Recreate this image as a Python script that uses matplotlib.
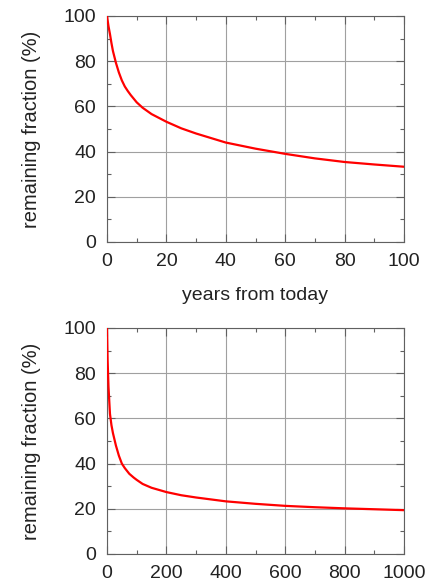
import matplotlib
matplotlib.use("Agg")
import matplotlib.pyplot as plt
from matplotlib.ticker import MultipleLocator

# Top panel (0-100 years)
years_short = [0, 0.5, 1, 1.5, 2, 3, 4, 5, 6, 7, 8, 10, 12, 15, 20, 25, 30, 35, 40, 50, 60, 70, 80, 90, 100]
frac_short = [100, 95.5, 92, 88, 84.5, 79.3, 75, 71.5, 68.8, 66.8, 65, 61.8, 59.4, 56.6, 53.2, 50.3, 48, 46, 44, 41.3, 39, 37, 35.4, 34.3, 33.3]

# Bottom panel (0-1000 years)
years_long = [0, 1, 2, 5, 10, 15, 20, 30, 40, 50, 60, 75, 90, 100, 120, 150, 200, 250, 300, 400, 500, 600, 700, 800, 900, 1000]
frac_long = [100, 93, 86, 74, 62, 57, 53.5, 48, 43.5, 40, 38, 35.5, 33.8, 32.8, 31, 29.3, 27.4, 26, 25, 23.3, 22.2, 21.3, 20.7, 20.2, 19.8, 19.4]

ylabel = "remaining fraction (%)"
xlabel = "years from today"

plt.rcParams['font.family'] = ['Liberation Sans', 'DejaVu Sans']

fig = plt.figure(figsize=(4.34, 5.84), dpi=100)
ax1 = fig.add_axes([107/434, 1-242/584, 297/434, 226/584])
ax2 = fig.add_axes([107/434, 1-554/584, 297/434, 226/584])

def style(ax, xmax, xmaj):
    ax.set_xlim(0, xmax)
    ax.set_ylim(0, 100)
    ax.xaxis.set_major_locator(MultipleLocator(xmaj))
    ax.xaxis.set_minor_locator(MultipleLocator(xmaj/2))
    ax.yaxis.set_major_locator(MultipleLocator(20))
    ax.yaxis.set_minor_locator(MultipleLocator(10))
    ax.grid(True, which='major', color='#a0a0a0', linewidth=0.8)
    ax.tick_params(which='both', direction='in', top=True, right=True, colors='#606060',
                   labelcolor='#222222', labelsize=14, width=0.8)
    ax.tick_params(which='major', length=6, pad=8)
    ax.tick_params(which='minor', length=3)
    for s in ax.spines.values():
        s.set_color('#606060')
        s.set_linewidth(0.8)
    ax.set_ylabel(ylabel, fontsize=14.5, color='#222222', labelpad=16)
    ax.set_axisbelow(True)

ax1.plot(years_short, frac_short, color='#ff0000', linewidth=1.6, zorder=3)
style(ax1, 100, 20)
ax1.set_xlabel(xlabel, fontsize=14, color='#222222', labelpad=12)

ax2.plot(years_long, frac_long, color='#ff0000', linewidth=1.6, zorder=3)
style(ax2, 1000, 200)

fig.savefig("out.png", dpi=100)
